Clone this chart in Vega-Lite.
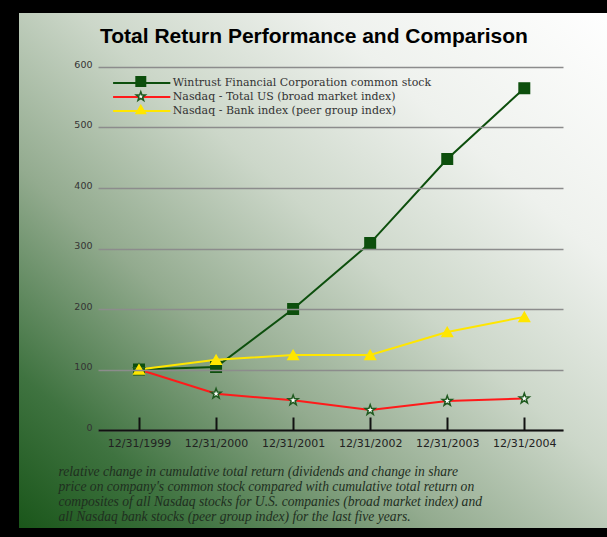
{
  "$schema": "https://vega.github.io/schema/vega-lite/v6.json",
  "width": 465,
  "height": 363,
  "autosize": {"type": "none"},
  "padding": {"left": 98, "top": 67, "right": 44, "bottom": 107},
  "background": "#000000",
  "title": {
    "text": "Total Return Performance and Comparison",
    "anchor": "start",
    "frame": "group",
    "dx": 2,
    "offset": -51,
    "baseline": "alphabetic",
    "font": "Liberation Sans",
    "fontSize": 21,
    "fontWeight": "bold",
    "color": "#000000",
    "zindex": 2
  },
  "data": {
    "values": [
      {"year": 1999, "series": "Wintrust Financial Corporation common stock", "value": 100},
      {"year": 2000, "series": "Wintrust Financial Corporation common stock", "value": 104},
      {"year": 2001, "series": "Wintrust Financial Corporation common stock", "value": 200},
      {"year": 2002, "series": "Wintrust Financial Corporation common stock", "value": 309},
      {"year": 2003, "series": "Wintrust Financial Corporation common stock", "value": 448},
      {"year": 2004, "series": "Wintrust Financial Corporation common stock", "value": 565},
      {"year": 1999, "series": "Nasdaq - Total US (broad market index)", "value": 100},
      {"year": 2000, "series": "Nasdaq - Total US (broad market index)", "value": 60},
      {"year": 2001, "series": "Nasdaq - Total US (broad market index)", "value": 49},
      {"year": 2002, "series": "Nasdaq - Total US (broad market index)", "value": 33},
      {"year": 2003, "series": "Nasdaq - Total US (broad market index)", "value": 48},
      {"year": 2004, "series": "Nasdaq - Total US (broad market index)", "value": 52},
      {"year": 1999, "series": "Nasdaq - Bank index (peer group index)", "value": 100},
      {"year": 2000, "series": "Nasdaq - Bank index (peer group index)", "value": 116},
      {"year": 2001, "series": "Nasdaq - Bank index (peer group index)", "value": 124},
      {"year": 2002, "series": "Nasdaq - Bank index (peer group index)", "value": 124},
      {"year": 2003, "series": "Nasdaq - Bank index (peer group index)", "value": 162},
      {"year": 2004, "series": "Nasdaq - Bank index (peer group index)", "value": 187}
    ]
  },
  "layer": [
    {
      "mark": {
        "type": "rect",
        "clip": false,
        "color": {
          "gradient": "linear",
          "x1": 0, "y1": 1, "x2": 1, "y2": 0,
          "stops": [
            {"offset": 0, "color": "#1a561a"},
            {"offset": 0.15, "color": "#3f7340"},
            {"offset": 0.35, "color": "#93ab8f"},
            {"offset": 0.55, "color": "#ccd7c9"},
            {"offset": 0.75, "color": "#eef1ed"},
            {"offset": 1, "color": "#ffffff"}
          ]
        }
      },
      "encoding": {
        "x": {"datum": 1997.443},
        "x2": {"datum": 2005.2},
        "y": {"datum": 689},
        "y2": {"datum": -162}
      }
    },
    {
      "mark": {"type": "line", "strokeWidth": 2},
      "encoding": {
        "x": {
          "field": "year",
          "type": "quantitative",
          "scale": {"domain": [1998.468, 2004.502], "nice": false, "zero": false},
          "axis": {
            "values": [1999, 2000, 2001, 2002, 2003, 2004],
            "labelExpr": "'12/31/' + datum.value",
            "grid": false,
            "domain": true,
            "domainColor": "#111111",
            "domainWidth": 2,
            "ticks": true,
            "tickSize": -13,
            "tickColor": "#111111",
            "tickWidth": 2,
            "labelFont": "DejaVu Sans",
            "labelFontSize": 11,
            "labelColor": "#222222",
            "labelPadding": 20,
            "labelBaseline": "top",
            "zindex": 1,
            "title": [
              "relative change in cumulative total return (dividends and change in share",
              "price on company's common stock compared with cumulative total return on",
              "composites of all Nasdaq stocks for U.S. companies (broad market index) and",
              "all Nasdaq bank stocks (peer group index) for the last five years."
            ],
            "titleFont": "Liberation Serif",
            "titleFontStyle": "italic",
            "titleFontWeight": "normal",
            "titleFontSize": 13.6,
            "titleLineHeight": 15,
            "titleColor": "#1f2f1f",
            "titleAnchor": "start",
            "titleAlign": "left",
            "titleBaseline": "top",
            "titleX": -40,
            "titleY": 34
          }
        },
        "y": {
          "field": "value",
          "type": "quantitative",
          "scale": {"domain": [0, 600], "nice": false},
          "axis": {
            "values": [0, 100, 200, 300, 400, 500, 600],
            "title": null,
            "domain": false,
            "ticks": false,
            "tickSize": 0,
            "grid": true,
            "gridColor": "#8c8c8c",
            "gridWidth": 1.5,
            "labelFont": "DejaVu Sans",
            "labelFontSize": 9.5,
            "labelColor": "#333333",
            "labelPadding": 6,
            "labelOffset": -3,
            "zindex": 1
          }
        },
        "color": {
          "field": "series",
          "type": "nominal",
          "sort": [
            "Wintrust Financial Corporation common stock",
            "Nasdaq - Total US (broad market index)",
            "Nasdaq - Bank index (peer group index)"
          ],
          "scale": {
            "range": ["#0d4f0d", "#ff1a1a", "#ffe600"]
          },
          "legend": {
            "orient": "none",
            "legendX": 36.7,
            "legendY": 9,
            "title": null,
            "padding": 0,
            "symbolType": "M-5,0H5",
            "symbolSize": 131,
            "symbolStrokeWidth": 2,
            "labelFont": "DejaVu Serif",
            "labelFontSize": 11,
            "labelColor": "#333333",
            "labelOffset": 24,
            "labelLimit": 0,
            "rowPadding": 2,
            "zindex": 2
          }
        }
      }
    },
    {
      "mark": {"type": "point", "filled": true, "size": 110, "strokeWidth": 1.5, "opacity": 1},
      "encoding": {
        "x": {"field": "year", "type": "quantitative"},
        "y": {"field": "value", "type": "quantitative"},
        "shape": {
          "field": "series",
          "type": "nominal",
          "scale": {
            "domain": [
              "Wintrust Financial Corporation common stock",
              "Nasdaq - Total US (broad market index)",
              "Nasdaq - Bank index (peer group index)"
            ],
            "range": [
              "square",
              "M0,-1L0.24,-0.33L0.95,-0.31L0.38,0.12L0.59,0.81L0,0.4L-0.59,0.81L-0.38,0.12L-0.95,-0.31L-0.24,-0.33Z",
              "triangle-up"
            ]
          },
          "legend": {
            "orient": "none",
            "legendX": 37.3,
            "legendY": 9,
            "title": null,
            "padding": 0,
            "symbolSize": 90,
            "symbolStrokeWidth": 1.5,
            "labelFont": "DejaVu Serif",
            "labelFontSize": 11,
            "labelExpr": "''",
            "labelLimit": 0,
            "rowPadding": -2,
            "zindex": 3
          }
        },
        "fill": {
          "field": "series",
          "type": "nominal",
          "scale": {
            "domain": [
              "Wintrust Financial Corporation common stock",
              "Nasdaq - Total US (broad market index)",
              "Nasdaq - Bank index (peer group index)"
            ],
            "range": ["#0d4f0d", "#ffffff", "#ffe600"]
          },
          "legend": {
            "orient": "none",
            "legendX": 37.3,
            "legendY": 9,
            "title": null,
            "padding": 0,
            "symbolSize": 90,
            "symbolStrokeWidth": 1.5,
            "labelFont": "DejaVu Serif",
            "labelFontSize": 11,
            "labelExpr": "''",
            "labelLimit": 0,
            "rowPadding": -2,
            "zindex": 3
          }
        },
        "stroke": {
          "field": "series",
          "type": "nominal",
          "scale": {
            "domain": [
              "Wintrust Financial Corporation common stock",
              "Nasdaq - Total US (broad market index)",
              "Nasdaq - Bank index (peer group index)"
            ],
            "range": ["#0d4f0d", "#1f5a1f", "#ffe600"]
          },
          "legend": {
            "orient": "none",
            "legendX": 37.3,
            "legendY": 9,
            "title": null,
            "padding": 0,
            "symbolSize": 90,
            "symbolStrokeWidth": 1.5,
            "labelFont": "DejaVu Serif",
            "labelFontSize": 11,
            "labelExpr": "''",
            "labelLimit": 0,
            "rowPadding": -2,
            "zindex": 3
          }
        }
      }
    }
  ],
  "config": {
    "view": {"stroke": null}
  }
}
